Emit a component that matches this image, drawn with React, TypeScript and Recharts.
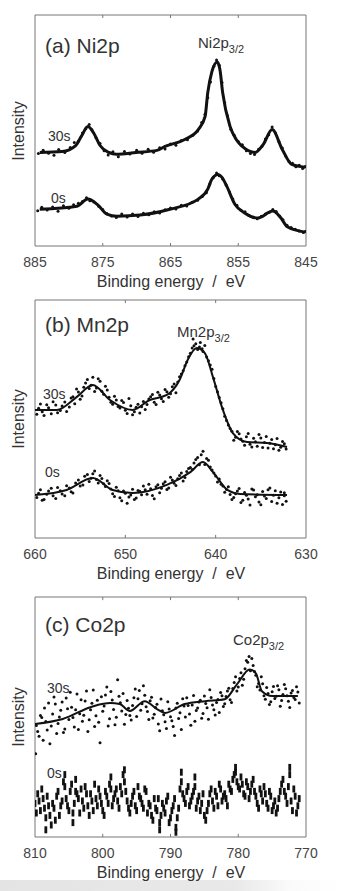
import React from 'react';
import {
  ComposedChart, Line, Scatter, XAxis, YAxis, ReferenceArea, ReferenceLine,
} from 'recharts';

// [binding energy (eV), intensity (a.u., 0-100 of panel height)]
const NI_FIT_30S: [number, number][] = [
  [884.3, 40.5], [881.0, 40.9], [879.0, 43.5], [878.1, 47.8], [877.2, 51.7], [876.3, 48.7],
  [875.4, 43.5], [874.1, 40.5], [873.0, 39.7], [870.1, 40.5], [867.0, 41.4], [865.8, 43.1],
  [862.9, 46.1], [860.9, 50.4], [859.9, 56.0], [859.5, 66.4], [858.9, 75.4], [858.1, 79.7],
  [857.7, 76.3], [857.3, 66.4], [856.2, 51.7], [855.3, 46.1], [854.4, 43.1], [852.5, 40.5],
  [851.3, 44.0], [850.0, 50.4], [848.5, 41.8], [847.1, 35.3], [845.1, 34.1],
];
const NI_FIT_0S: [number, number][] = [
  [884.3, 15.9], [878.8, 17.2], [877.2, 20.3], [875.7, 17.7], [874.4, 13.8], [872.9, 12.9],
  [869.5, 13.4], [865.1, 15.9], [860.9, 20.3], [859.5, 24.6], [858.9, 28.9], [858.0, 31.0],
  [857.4, 29.7], [856.7, 25.9], [855.5, 18.1], [854.0, 14.2], [852.1, 12.1], [849.9, 15.1],
  [848.8, 12.5], [847.7, 8.2], [845.1, 6.0],
];
const NI_PTS_30S: [number, number][] = [
  [884.5, 40.0], [883.8, 41.5], [883, 40.2], [882.2, 39.3], [881.5, 41.8], [880.6, 40.5],
  [879.8, 42.6], [879.2, 44.8], [878.6, 45.3], [878, 48.9], [877.5, 50.8], [877, 52.6],
  [876.6, 50.3], [876, 46.9], [875.4, 44.4], [874.8, 41.2], [874.2, 39.4], [873.5, 40.8],
  [872.7, 38.6], [871.8, 40.9], [871, 39.8], [870, 41.5], [869.2, 40.1], [868.3, 41.9],
  [867.5, 40.6], [866.6, 42.5], [865.8, 42.0], [865, 44.2], [864.2, 43.6], [863.4, 45.7],
  [862.5, 46.0], [861.7, 47.9], [861, 49.8], [860.4, 53.5], [859.9, 57.0], [859.5, 64.2],
  [859.1, 71.0], [858.6, 77.8], [858.2, 80.5], [857.8, 78.2], [857.4, 70.8], [857, 62.0],
  [856.6, 56.4], [856.1, 50.5], [855.6, 47.9], [855, 45.2], [854.4, 43.8], [853.8, 41.2],
  [853.2, 40.0], [852.6, 39.6], [852, 41.9], [851.5, 43.1], [851, 46.3], [850.5, 48.2],
  [850, 51.5], [849.5, 48.9], [849, 45.1], [848.5, 42.4], [848, 39.0], [847.5, 36.6],
  [847, 35.8], [846.5, 34.3], [846, 35.0], [845.5, 33.5], [845.1, 34.4],
];
const NI_PTS_0S: [number, number][] = [
  [884.6, 15.3], [884, 16.8], [883.2, 15.6], [882.4, 16.9], [881.6, 15.0], [880.8, 17.4],
  [880, 16.3], [879.3, 17.9], [878.6, 18.5], [878, 19.3], [877.4, 20.9], [876.9, 19.6],
  [876.3, 19.0], [875.6, 17.2], [875, 15.8], [874.4, 14.1], [873.7, 13.0], [873, 12.3],
  [872.2, 13.8], [871.4, 12.6], [870.6, 13.9], [869.8, 12.8], [869, 14.2], [868.2, 13.5],
  [867.4, 14.8], [866.6, 14.3], [865.8, 15.7], [865, 16.4], [864.2, 16.0], [863.4, 17.6],
  [862.6, 17.3], [861.8, 18.9], [861, 19.8], [860.3, 21.4], [859.7, 23.0], [859.2, 26.8],
  [858.7, 29.5], [858.2, 31.6], [857.8, 30.4], [857.3, 29.0], [856.8, 26.4], [856.3, 23.4],
  [855.8, 20.3], [855.2, 17.6], [854.6, 15.5], [854, 14.8], [853.4, 13.2], [852.8, 12.4],
  [852.2, 11.8], [851.6, 12.9], [851, 13.8], [850.4, 14.6], [849.9, 15.8], [849.4, 14.9],
  [848.9, 13.0], [848.4, 11.4], [847.8, 9.0], [847.2, 8.0], [846.6, 7.2], [846, 6.5],
  [845.4, 5.8], [845.1, 6.3],
];

const MN_FIT_30S: [number, number][] = [
  [660.0, 53.8], [657.6, 53.8], [655.4, 59.2], [653.6, 64.3], [651.7, 58.0], [649.2, 53.8],
  [647.3, 58.0], [645.4, 60.1], [644.0, 66.4], [643.1, 74.8], [642.1, 79.8], [641.2, 77.7],
  [640.3, 67.6], [639.2, 53.8], [638.1, 44.1], [636.5, 40.3], [634.3, 39.9], [632.1, 38.2],
];
const MN_FIT_0S: [number, number][] = [
  [660.0, 18.1], [656.5, 20.2], [653.6, 25.2], [651.4, 20.2], [649.2, 18.9], [645.4, 22.3],
  [642.8, 27.7], [641.4, 31.9], [640.3, 27.7], [638.7, 20.2], [637.3, 18.5], [632.1, 18.1],
];
const MN_PTS_30S: [number, number][] = [
  [659.8, 52.0], [659.4, 56.3], [659, 51.5], [658.5, 54.7], [658, 57.2], [657.5, 52.6],
  [657, 55.5], [656.5, 53.1], [656, 58.8], [655.6, 56.4], [655.2, 61.3], [654.8, 59.7],
  [654.4, 65.1], [654, 62.8], [653.6, 67.5], [653.2, 63.0], [652.8, 65.9], [652.4, 60.4],
  [652, 62.2], [651.6, 57.0], [651.2, 59.6], [650.8, 55.3], [650.4, 57.8], [650, 53.7],
  [649.6, 58.6], [649.2, 51.8], [648.8, 54.9], [648.4, 52.5], [648, 57.4], [647.6, 56.1],
  [647.2, 59.3], [646.8, 57.0], [646.4, 61.2], [646, 58.5], [645.6, 62.4], [645.2, 59.1],
  [644.8, 63.6], [644.4, 61.0], [644, 67.8], [643.6, 70.3], [643.2, 73.9], [642.8, 77.6],
  [642.5, 83.6], [642.4, 80.8], [642, 79.2], [641.7, 82.1], [641.4, 78.4], [641, 76.0],
  [640.6, 72.7], [640.2, 67.0], [639.8, 61.5], [639.4, 56.8], [639, 51.2], [638.6, 47.5],
  [638.2, 44.9], [637.8, 42.3], [637.4, 43.8], [637, 40.7], [636.6, 42.5], [636.2, 39.4],
  [635.8, 41.9], [635.4, 38.6], [635, 42.0], [634.6, 40.1], [634.2, 37.8], [633.8, 41.4],
  [633.4, 39.2], [633, 36.9], [632.6, 40.5], [632.2, 37.4],
];
const MN_PTS_30S_B: [number, number][] = [
  [659.6, 54.5], [659.2, 53.0], [658.7, 56.0], [658.2, 52.2], [657.7, 55.9], [657.2, 53.6],
  [656.7, 57.1], [656.2, 55.0], [655.8, 59.4], [655.4, 62.6], [655.0, 58.3], [654.6, 63.3],
  [654.2, 66.6], [653.8, 64.2], [653.4, 61.6], [653.0, 66.9], [652.6, 61.7], [652.2, 63.8],
  [651.8, 59.1], [651.4, 56.2], [651.0, 58.0], [650.6, 54.6], [650.2, 56.9], [649.8, 52.3],
  [649.4, 55.6], [649.0, 53.0], [648.6, 56.2], [648.2, 55.1], [647.8, 54.0], [647.4, 58.4],
  [647.0, 60.3], [646.6, 56.1], [646.2, 60.1], [645.8, 57.4], [645.4, 61.5], [645.0, 60.6],
  [644.6, 64.7], [644.2, 65.5], [643.8, 68.9], [643.4, 72.4], [643.0, 76.2], [642.6, 79.8],
  [642.2, 81.6], [641.8, 80.3], [641.5, 79.5], [641.2, 80.9], [640.8, 74.5], [640.4, 70.9],
  [640.0, 63.7], [639.6, 59.0], [639.2, 54.3], [638.8, 49.4], [638.4, 46.0], [638.0, 41.1],
  [637.6, 44.7], [637.2, 41.6], [636.8, 39.0], [636.4, 43.9], [636.0, 38.2], [635.6, 40.4],
  [635.2, 43.5], [634.8, 38.0], [634.4, 42.6], [634.0, 39.8], [633.6, 37.5], [633.2, 41.8],
  [632.8, 38.1], [632.4, 39.6],
];
const MN_PTS_0S: [number, number][] = [
  [659.8, 17.0], [659.4, 20.3], [659, 16.2], [658.5, 19.7], [658, 17.8], [657.5, 21.2],
  [657, 18.5], [656.5, 22.0], [656, 19.4], [655.5, 23.1], [655, 21.8], [654.5, 25.9],
  [654, 23.7], [653.6, 27.0], [653.2, 24.6], [652.8, 26.3], [652.4, 22.8], [652, 24.1],
  [651.6, 20.6], [651.2, 17.4], [650.8, 19.9], [650.4, 15.6], [650, 18.8], [649.6, 17.2],
  [649.2, 20.5], [648.8, 16.8], [648.4, 19.6], [648, 21.9], [647.6, 18.4], [647.2, 20.7],
  [646.8, 16.5], [646.4, 22.4], [646, 20.9], [645.6, 23.6], [645.2, 21.0], [644.8, 24.4],
  [644.4, 22.1], [644, 26.3], [643.6, 24.0], [643.2, 27.9], [642.8, 29.6], [642.4, 31.5],
  [642, 33.8], [641.6, 35.0], [641.2, 30.9], [640.8, 32.7], [640.4, 28.6], [640, 26.1],
  [639.6, 24.8], [639.2, 21.9], [638.8, 20.4], [638.4, 18.3], [638, 17.0], [637.6, 19.8],
  [637.2, 14.9], [636.8, 19.1], [636.4, 16.4], [636, 20.6], [635.6, 17.3], [635.2, 15.1],
  [634.8, 19.5], [634.4, 16.6], [634, 21.0], [633.6, 18.0], [633.2, 14.6], [632.8, 19.3],
  [632.4, 17.7], [632.2, 15.4],
];
const MN_PTS_0S_B: [number, number][] = [
  [659.6, 18.8], [659.2, 15.9], [658.7, 18.4], [658.2, 20.9], [657.7, 16.6], [657.2, 19.9],
  [656.7, 17.7], [656.2, 21.0], [655.8, 18.9], [655.2, 24.4], [654.7, 22.3], [654.2, 26.7],
  [653.8, 25.1], [653.4, 28.2], [653.0, 23.1], [652.6, 25.0], [652.2, 21.6], [651.8, 22.9],
  [651.4, 18.6], [651.0, 21.3], [650.6, 16.9], [650.2, 19.8], [649.8, 14.6], [649.4, 18.1],
  [649.0, 16.2], [648.6, 20.0], [648.2, 18.2], [647.8, 20.3], [647.4, 22.6], [647.0, 17.9],
  [646.6, 21.5], [646.2, 19.0], [645.8, 22.8], [645.4, 20.4], [645.0, 25.5], [644.6, 23.0],
  [644.2, 24.9], [643.8, 27.3], [643.4, 25.4], [643.0, 29.2], [642.6, 28.8], [642.2, 33.0],
  [641.8, 30.8], [641.4, 36.5], [641.0, 33.4], [640.6, 29.8], [640.2, 27.3], [639.8, 23.5],
  [639.4, 22.6], [639.0, 19.2], [638.6, 21.5], [638.2, 16.2], [637.8, 18.6], [637.4, 20.8],
  [637.0, 15.9], [636.6, 18.0], [636.2, 13.9], [635.8, 20.2], [635.4, 18.2], [635.0, 14.0],
  [634.6, 17.6], [634.2, 20.3], [633.8, 15.3], [633.4, 19.9], [633.0, 16.9], [632.6, 14.1],
  [632.4, 19.0],
];

const CO_FIT_30S: [number, number][] = [
  [810.0, 47.1], [805.9, 49.2], [801.4, 54.5], [798.9, 55.8], [797.5, 55.4], [796.0, 52.5],
  [793.8, 56.6], [792.0, 53.3], [790.8, 51.7], [787.9, 55.4], [784.9, 56.6], [782.0, 57.4],
  [780.2, 63.6], [778.3, 69.8], [777.4, 68.2], [776.5, 60.7], [775.0, 58.7], [771.2, 58.7],
];
const CO_PTS_30S: [number, number][] = [
  [809.9, 34.7], [809.8, 46.5], [809.4, 42.0], [809, 49.8], [808.6, 53.7], [808.2, 44.6],
  [807.8, 38.9], [807.4, 51.2], [807, 55.4], [806.6, 47.3], [806.2, 52.8], [805.8, 43.5],
  [805.4, 57.9], [805, 49.0], [804.6, 54.1], [804.2, 45.8], [803.8, 59.6], [803.4, 51.4],
  [803, 48.2], [802.6, 56.7], [802.2, 44.0], [801.8, 53.0], [801.4, 61.2], [801, 50.5],
  [800.6, 47.8], [800.4, 39.3], [800.2, 58.4], [799.8, 54.6], [799.4, 62.5], [799, 49.3],
  [798.6, 57.1], [798.2, 46.8], [797.8, 65.5], [797.4, 55.9], [797, 59.8], [796.6, 51.0],
  [796.2, 53.6], [795.8, 48.7], [795.4, 58.0], [795, 50.2], [794.6, 61.0], [794.2, 55.5],
  [793.8, 59.1], [793.4, 52.3], [793, 56.8], [792.6, 49.6], [792.2, 54.0], [791.8, 47.1],
  [791.4, 57.5], [791, 50.9], [790.6, 45.2], [790.2, 53.3], [789.8, 48.4], [789.4, 42.3],
  [789, 55.7], [788.6, 51.8], [788.2, 57.6], [787.8, 50.0], [787.4, 54.8], [787, 46.6],
  [786.6, 59.0], [786.2, 52.7], [785.8, 56.2], [785.4, 49.5], [785, 58.8], [784.6, 53.9],
  [784.2, 61.4], [783.8, 55.0], [783.4, 50.8], [783, 57.3], [782.6, 60.2], [782.2, 54.4],
  [781.8, 58.5], [781.4, 62.0], [781, 56.0], [780.6, 64.4], [780.2, 60.8], [779.8, 66.0],
  [779.4, 63.2], [779, 70.1], [778.6, 72.8], [778.4, 75.2], [778.2, 69.3], [777.8, 71.5],
  [777.4, 67.4], [777, 64.0], [776.6, 66.8], [776.2, 58.9], [775.8, 62.3], [775.4, 55.2],
  [775, 60.5], [774.6, 57.7], [774.2, 63.0], [773.8, 54.5], [773.4, 59.4], [773, 61.8],
  [772.6, 56.6], [772.2, 60.0], [771.8, 58.1], [771.4, 62.6], [771, 55.8],
];
const CO_PTS_30S_B: [number, number][] = [
  [809.6, 44.0], [809.2, 50.6], [808.8, 40.3], [808.4, 48.1], [808.0, 55.8], [807.6, 46.2],
  [807.2, 58.3], [806.8, 43.1], [806.4, 50.0], [806.0, 56.2], [805.6, 45.0], [805.2, 53.4],
  [804.8, 60.3], [804.4, 49.8], [804.0, 53.0], [803.6, 44.8], [803.2, 57.2], [802.8, 50.7],
  [802.4, 60.8], [802.0, 48.9], [801.6, 55.7], [801.2, 46.0], [800.8, 57.0], [800.0, 52.4],
  [799.6, 59.2], [799.2, 46.2], [798.8, 60.6], [798.4, 53.1], [798.0, 49.9], [797.6, 58.6],
  [797.2, 52.5], [796.8, 47.0], [796.4, 56.9], [796.0, 50.6], [795.6, 54.8], [795.2, 61.7],
  [794.8, 57.6], [794.4, 52.8], [794.0, 63.0], [793.6, 54.3], [793.2, 49.0], [792.8, 58.2],
  [792.4, 51.1], [792.0, 55.3], [791.6, 44.3], [791.2, 52.6], [790.8, 48.0], [790.4, 56.4],
  [790.0, 50.1], [789.6, 46.0], [789.2, 53.8], [788.8, 49.4], [788.4, 44.8], [788.0, 54.6],
  [787.6, 58.0], [787.2, 51.3], [786.8, 55.0], [786.4, 48.2], [786.0, 53.7], [785.6, 57.0],
  [785.2, 51.5], [784.8, 55.6], [784.4, 49.1], [784.0, 58.1], [783.6, 53.0], [783.2, 56.0],
  [782.8, 51.9], [782.4, 58.9], [782.0, 55.5], [781.6, 60.8], [781.2, 57.2], [780.8, 61.9],
  [780.4, 66.8], [780.0, 62.5], [779.6, 68.4], [779.2, 65.7], [778.8, 73.5], [778.0, 74.4],
  [777.6, 69.0], [777.2, 62.6], [776.8, 61.2], [776.4, 63.9], [776.0, 57.4], [775.6, 59.8],
  [775.2, 56.4], [774.8, 62.7], [774.4, 58.6], [774.0, 61.4], [773.6, 56.9], [773.2, 63.5],
  [772.8, 58.9], [772.4, 54.0], [772.0, 61.0], [771.6, 57.3], [771.2, 60.4],
];
const CO_PTS_0S: [number, number][] = [
  [810.0, 14], [809.6, 18], [809.2, 11], [808.8, 16], [808.4, 8], [808.0, 13], [807.6, 5],
  [807.2, 12], [806.8, 17], [806.4, 9], [806.0, 15], [805.6, 21], [805.2, 13], [804.8, 19],
  [804.4, 10], [804.0, 24], [803.6, 16], [803.2, 20], [802.8, 12], [802.4, 18], [802.0, 9],
  [801.6, 15], [801.2, 22], [800.8, 13], [800.4, 17], [800.0, 11], [799.6, 19], [799.2, 14],
  [798.8, 25], [798.4, 16], [798.0, 20], [797.6, 12], [797.2, 18], [796.8, 23], [796.4, 15],
  [796.0, 10], [795.6, 17], [795.2, 13], [794.8, 21], [794.4, 16], [794.0, 12], [793.6, 19],
  [793.2, 14], [792.8, 9], [792.4, 16], [792.0, 11], [791.6, 6], [791.2, 14], [790.8, 10],
  [790.4, 17], [790.0, 8], [789.6, 13], [789.2, 4], [788.8, 12], [788.4, 23], [788.0, 16],
  [787.6, 19], [787.2, 13], [786.8, 17], [786.4, 21], [786.0, 15], [785.6, 11], [785.2, 18],
  [784.8, 7], [784.4, 14], [784.0, 20], [783.6, 12], [783.2, 17], [782.8, 22], [782.4, 15],
  [782.0, 18], [781.6, 13], [781.2, 20], [780.8, 24], [780.4, 27], [780.0, 21], [779.6, 25],
  [779.2, 18], [778.8, 23], [778.4, 16], [778.0, 22], [777.6, 19], [777.2, 14], [776.8, 20],
  [776.4, 15], [776.0, 18], [775.6, 12], [775.2, 17], [774.8, 13], [774.4, 10], [774.0, 16],
  [773.6, 22], [773.2, 19], [772.8, 14], [772.4, 26], [772.0, 11], [771.6, 17], [771.2, 13],
  [808.4, 3], [805.6, 26], [804.0, 19], [798.8, 20], [796.8, 28], [788.4, 27], [780.4, 29],
  [772.4, 29], [789.2, 2], [804.4, 6], [791.6, 3], [786.4, 25],
];
const CO_PTS_0S_B: [number, number][] = [
  [809.8, 10], [809.4, 15], [809.0, 20], [808.6, 12], [808.2, 17], [807.8, 9], [807.4, 14],
  [807.0, 7], [806.6, 19], [806.2, 13], [805.8, 23], [805.4, 16], [805.0, 11], [804.6, 22],
  [804.2, 14], [803.8, 18], [803.4, 10], [803.0, 15], [802.6, 21], [802.2, 13], [801.8, 18],
  [801.4, 11], [801.0, 16], [800.6, 20], [800.2, 14], [799.8, 9], [799.4, 17], [799.0, 22],
  [798.6, 13], [798.2, 18], [797.8, 15], [797.4, 21], [797.0, 26], [796.6, 19], [796.2, 12],
  [795.8, 14], [795.4, 19], [795.0, 11], [794.6, 17], [794.2, 14], [793.8, 20], [793.4, 10],
  [793.0, 13], [792.6, 7], [792.2, 12], [791.8, 16], [791.4, 9], [791.0, 12], [790.6, 15],
  [790.2, 6], [789.8, 11], [789.4, 16], [789.0, 8], [788.6, 20], [788.2, 18], [787.8, 14],
  [787.4, 21], [787.0, 15], [786.6, 19], [786.2, 12], [785.8, 17], [785.4, 14], [785.0, 9],
  [784.6, 11], [784.2, 18], [783.8, 15], [783.4, 19], [783.0, 13], [782.6, 20], [782.2, 17],
  [781.8, 16], [781.4, 22], [781.0, 19], [780.6, 26], [780.2, 23], [779.8, 20], [779.4, 22],
  [779.0, 17], [778.6, 21], [778.2, 19], [777.8, 24], [777.4, 17], [777.0, 12], [776.6, 18],
  [776.2, 21], [775.8, 14], [775.4, 19], [775.0, 11], [774.6, 15], [774.2, 12], [773.8, 19],
  [773.4, 24], [773.0, 17], [772.6, 21], [772.2, 15], [771.8, 20], [771.4, 10], [771.0, 16],
];

const NI_TICKS = [845, 855, 865, 875, 885];
const MN_TICKS = [630, 640, 650, 660];
const CO_TICKS = [770, 780, 790, 800, 810];

const FONT = '"Liberation Sans", Arial, Helvetica, sans-serif';
const INK = '#111';
const FRAME = '#777';

const toPts = (arr: [number, number][]) => arr.map(([e, i]) => ({ e, i }));

const dot = (props: any) => <circle cx={props.cx} cy={props.cy} r={1.5} fill={INK} />;
const dash = (props: any) => (
  <rect x={props.cx - 1.4} y={props.cy - 3.5} width={2.8} height={7} fill={INK} />
);

type PanelProps = {
  top: number;
  height: number;
  marginTop: number;
  axisHeight: number;
  domain: [number, number];
  ticks: number[];
  fits: [number, number][][];
  points: [number, number][][];
  shapes: any[];
  lineWidth: number;
};

function Panel({ top, height, marginTop, axisHeight, domain, ticks, fits, points, shapes, lineWidth }: PanelProps) {
  const inner = ticks.filter((t) => t !== domain[0] && t !== domain[1]);
  return (
    <div style={{ position: 'absolute', left: 0, top }}>
      <ComposedChart width={339} height={height} margin={{ top: marginTop, right: 33, left: 35, bottom: 0 }}>
        <XAxis
          dataKey="e"
          type="number"
          domain={domain}
          reversed
          ticks={ticks}
          allowDataOverflow
          height={axisHeight}
          axisLine={false}
          tickLine={false}
          tickMargin={5}
          tick={{ fill: '#444', fontSize: 14, fontFamily: FONT }}
        />
        <YAxis dataKey="i" type="number" domain={[0, 100]} hide allowDataOverflow />
        <ReferenceArea x1={domain[0]} x2={domain[1]} y1={0} y2={100} fill="none" stroke={FRAME} strokeWidth={1} />
        {inner.map((t) => (
          <ReferenceLine key={'b' + t} segment={[{ x: t, y: 0 }, { x: t, y: 1.3 }]} stroke={FRAME} />
        ))}
        {inner.map((t) => (
          <ReferenceLine key={'t' + t} segment={[{ x: t, y: 98.7 }, { x: t, y: 100 }]} stroke={FRAME} />
        ))}
        {points.map((p, k) => (
          <Scatter key={'s' + k} data={toPts(p)} shape={shapes[k]} isAnimationActive={false} />
        ))}
        {fits.map((f, k) => (
          <Line
            key={'l' + k}
            data={toPts(f)}
            dataKey="i"
            type="monotone"
            stroke={INK}
            strokeWidth={lineWidth}
            dot={false}
            isAnimationActive={false}
          />
        ))}
      </ComposedChart>
    </div>
  );
}

const txt = { fontFamily: FONT, fill: '#333' } as const;

function Labels() {
  const title = (y: number) => (
    <text x={171} y={y} fontSize={16} textAnchor="middle" style={{ whiteSpace: 'pre' }} {...txt}>
      {'Binding energy  /  eV'}
    </text>
  );
  const ylab = (cy: number) => (
    <text x={20} y={cy} fontSize={16} textAnchor="middle" dominantBaseline="middle" transform={`rotate(-90 20 ${cy})`} {...txt}>
      Intensity
    </text>
  );
  const peak = (x: number, y: number, name: string) => (
    <text x={x} y={y} fontSize={15} {...txt}>
      {name}
      <tspan fontSize={11} dy={5}>3/2</tspan>
    </text>
  );
  return (
    <svg width={339} height={891} style={{ position: 'absolute', left: 0, top: 0, pointerEvents: 'none' }}>
      <text x={45} y={53} fontSize={21} {...txt}>(a) Ni2p</text>
      {peak(198, 48, 'Ni2p')}
      <text x={48} y={141} fontSize={14} {...txt}>30s</text>
      <text x={51} y={203} fontSize={14} {...txt}>0s</text>
      {ylab(131)}
      {title(287)}

      <text x={45} y={332} fontSize={21} {...txt}>(b) Mn2p</text>
      {peak(177, 337, 'Mn2p')}
      <text x={43} y={399} fontSize={14} {...txt}>30s</text>
      <text x={45} y={477} fontSize={14} {...txt}>0s</text>
      {ylab(419)}
      {title(579)}

      <text x={45} y={632} fontSize={21} {...txt}>(c) Co2p</text>
      {peak(233, 645, 'Co2p')}
      <text x={47} y={693} fontSize={14} {...txt}>30s</text>
      <text x={47} y={778} fontSize={14} {...txt}>0s</text>
      {ylab(717)}
      {title(878)}
    </svg>
  );
}

export default function App() {
  return (
    <div style={{ position: 'absolute', left: 0, top: 0, width: 339, height: 891, background: '#fff', overflow: 'hidden' }}>
      <div
        style={{
          position: 'absolute', left: 0, top: 880, width: 339, height: 11,
          background: 'linear-gradient(to right, #e4e4e4 0%, #e9e9e9 70%, #fafafa 85%, #fff 100%)',
        }}
      />
      <Panel
        top={0} height={290} marginTop={15} axisHeight={44}
        domain={[845, 885]} ticks={NI_TICKS}
        fits={[NI_FIT_30S, NI_FIT_0S]} points={[NI_PTS_30S, NI_PTS_0S]} shapes={[dot, dot]}
        lineWidth={3}
      />
      <Panel
        top={290} height={290} marginTop={10} axisHeight={42}
        domain={[630, 660]} ticks={MN_TICKS}
        fits={[MN_FIT_30S, MN_FIT_0S]}
        points={[[...MN_PTS_30S, ...MN_PTS_30S_B], [...MN_PTS_0S, ...MN_PTS_0S_B]]}
        shapes={[dot, dot]}
        lineWidth={2}
      />
      <Panel
        top={580} height={311} marginTop={17} axisHeight={54}
        domain={[770, 810]} ticks={CO_TICKS}
        fits={[CO_FIT_30S]}
        points={[[...CO_PTS_30S, ...CO_PTS_30S_B], [...CO_PTS_0S, ...CO_PTS_0S_B]]}
        shapes={[dot, dash]}
        lineWidth={2}
      />
      <Labels />
    </div>
  );
}
